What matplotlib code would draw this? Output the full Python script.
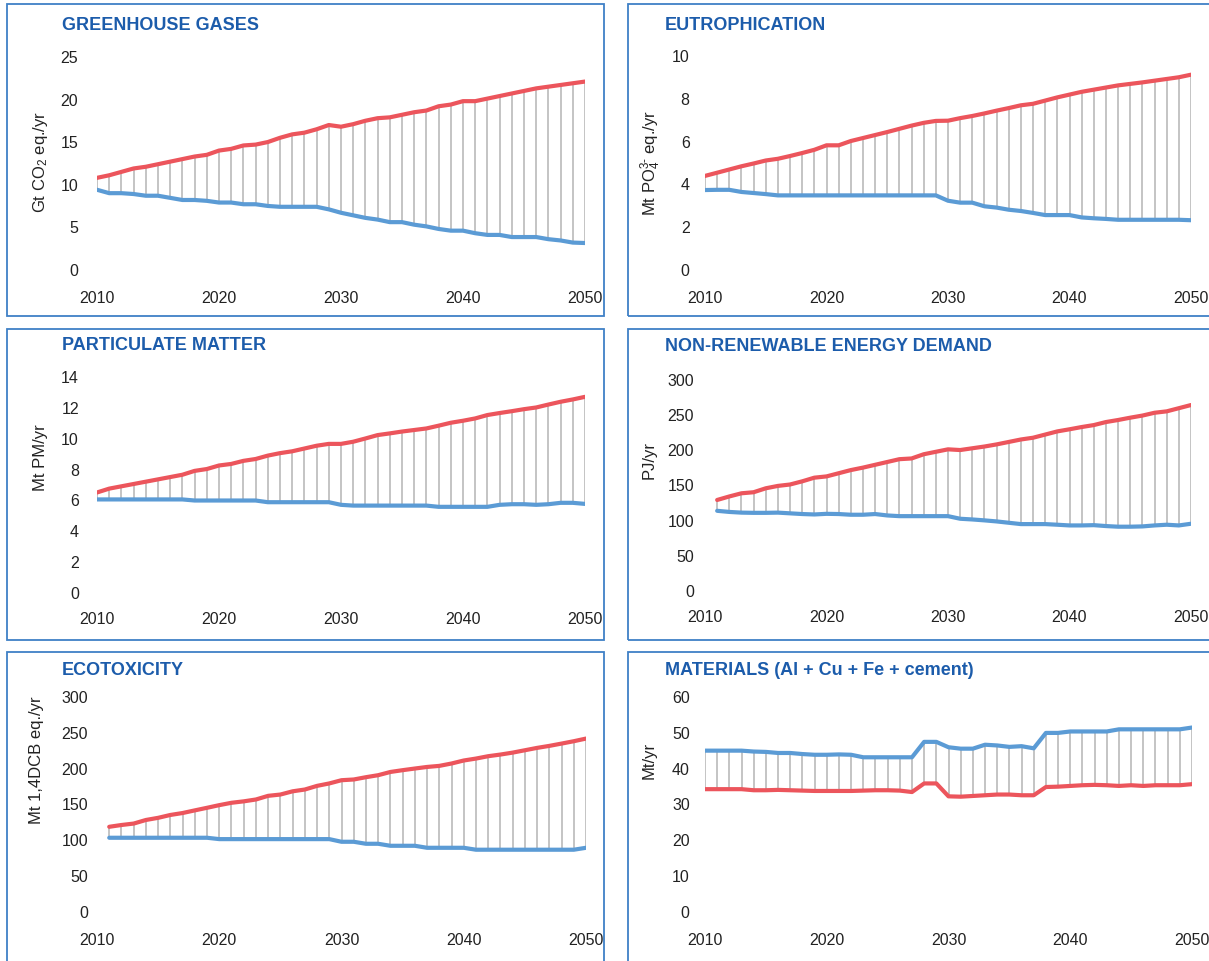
import matplotlib.pyplot as plt
from matplotlib.patches import Rectangle

plt.rcParams['font.family'] = ['Liberation Sans', 'DejaVu Sans']
plt.rcParams['mathtext.fontset'] = 'custom'
plt.rcParams['mathtext.rm'] = 'Liberation Sans'
plt.rcParams['mathtext.it'] = 'Liberation Sans:italic'
plt.rcParams['mathtext.bf'] = 'Liberation Sans:bold'

W, H = 1209, 962
RED = '#EC555C'
BLUE = '#5B9BD5'
GREY = '#C4C4C4'
TITLE_C = '#1C5CAB'
FRAME_C = '#3F80C6'
TEXT_C = '#222222'

years_41 = list(range(2010, 2051))
years_40 = list(range(2011, 2051))

# greenhouse gases, Gt CO2 eq./yr
ghg_red = [10.7, 11.0, 11.4, 11.8, 12.0, 12.3, 12.6, 12.9, 13.2, 13.4,
           13.9, 14.1, 14.5, 14.6, 14.9, 15.4, 15.8, 16.0, 16.4, 16.9,
           16.7, 17.0, 17.4, 17.7, 17.8, 18.1, 18.4, 18.6, 19.1, 19.3,
           19.7, 19.7, 20.0, 20.3, 20.6, 20.9, 21.2, 21.4, 21.6, 21.8, 22.0]
ghg_blue = [9.3, 8.9, 8.9, 8.8, 8.6, 8.6, 8.35, 8.1, 8.1, 8.0,
            7.8, 7.8, 7.6, 7.6, 7.4, 7.3, 7.3, 7.3, 7.3, 7.0,
            6.6, 6.3, 6.0, 5.8, 5.5, 5.5, 5.2, 5.0, 4.7, 4.5,
            4.5, 4.2, 4.0, 4.0, 3.75, 3.75, 3.75, 3.5, 3.35, 3.1, 3.05]

# eutrophication, Mt PO4 eq./yr
eut_red = [4.35, 4.5, 4.65, 4.8, 4.93, 5.07, 5.15, 5.28, 5.42, 5.57,
           5.78, 5.78, 5.98, 6.12, 6.26, 6.4, 6.55, 6.7, 6.83, 6.92,
           6.93, 7.05, 7.15, 7.27, 7.4, 7.52, 7.65, 7.72, 7.87, 8.02,
           8.15, 8.28, 8.38, 8.48, 8.58, 8.65, 8.72, 8.8, 8.88, 8.96, 9.08]
eut_blue = [3.69, 3.7, 3.7, 3.6, 3.55, 3.5, 3.44, 3.44, 3.44, 3.44,
            3.44, 3.44, 3.44, 3.44, 3.44, 3.44, 3.44, 3.44, 3.44, 3.44,
            3.19, 3.1, 3.1, 2.93, 2.87, 2.77, 2.71, 2.62, 2.52, 2.52,
            2.52, 2.41, 2.37, 2.34, 2.3, 2.3, 2.3, 2.3, 2.3, 2.3, 2.28]

# particulate matter, Mt PM/yr
pm_red = [6.45, 6.7, 6.85, 7.0, 7.15, 7.3, 7.45, 7.6, 7.85, 7.97,
          8.2, 8.3, 8.5, 8.62, 8.84, 9.0, 9.12, 9.3, 9.48, 9.6,
          9.6, 9.74, 9.95, 10.17, 10.28, 10.4, 10.5, 10.6, 10.78, 10.97,
          11.1, 11.25, 11.47, 11.6, 11.72, 11.85, 11.96, 12.15, 12.33, 12.48, 12.65]
pm_blue = [6.0, 6.0, 6.0, 6.0, 6.0, 6.0, 6.0, 6.0, 5.93, 5.93,
           5.93, 5.93, 5.93, 5.93, 5.82, 5.82, 5.82, 5.82, 5.82, 5.82,
           5.65, 5.6, 5.6, 5.6, 5.6, 5.6, 5.6, 5.6, 5.52, 5.52,
           5.52, 5.52, 5.52, 5.65, 5.69, 5.69, 5.65, 5.69, 5.78, 5.78, 5.71]

# non-renewable energy demand, PJ/yr (2011-2050)
nred_red = [128, 133, 137.5, 139, 144.6, 148, 150, 154.5, 159.7,
            161.5, 166, 170.5, 174, 178, 182, 186, 187, 193, 196.5,
            200, 199, 201.5, 204, 207, 210.5, 214, 216.5, 221, 225.5,
            228.5, 231.7, 234.5, 238.8, 241.7, 245, 248, 252, 254, 258.5, 263]
nred_blue = [112.6, 111, 110, 109.7, 109.7, 110, 109, 108, 107.4,
             108.3, 108, 107, 107, 108, 106, 105, 105, 105, 105,
             105, 101.3, 100.3, 99, 97.5, 95.6, 93.7, 93.7, 93.7, 92.8,
             91.8, 91.8, 92.2, 90.9, 90, 90, 90.4, 91.8, 92.8, 91.8, 94.2]

# ecotoxicity, Mt 1,4DCB eq./yr (2011-2050)
eco_red = [117.5, 120, 122, 127, 130, 134, 136.7, 140.4, 144,
           147.7, 151, 153, 155.6, 160.7, 162.5, 167, 169.5, 174.6, 178,
           182.5, 183.5, 186.7, 189.5, 194, 196.5, 198.8, 201, 202.5, 205.8,
           210, 212.7, 216, 218.3, 221, 224.3, 227.6, 230.4, 233.6, 236.9, 240.6]
eco_blue = [102.2, 102.2, 102.2, 102.2, 102.2, 102.2, 102.2, 102.2, 102.2,
            100.3, 100.3, 100.3, 100.3, 100.3, 100.3, 100.3, 100.3, 100.3, 100.3,
            96.6, 96.6, 93.8, 93.8, 91, 91, 91, 88.2, 88.2, 88.2,
            88.2, 85.5, 85.5, 85.5, 85.5, 85.5, 85.5, 85.5, 85.5, 85.5, 88.2]

# materials (Al + Cu + Fe + cement), Mt/yr
mat_red = [34.0, 34.0, 34.0, 34.0, 33.7, 33.7, 33.8, 33.7, 33.6, 33.5,
           33.5, 33.5, 33.5, 33.6, 33.7, 33.7, 33.6, 33.2, 35.6, 35.6,
           32.0, 31.9, 32.1, 32.3, 32.5, 32.5, 32.3, 32.3, 34.6, 34.7,
           34.9, 35.1, 35.2, 35.1, 34.9, 35.1, 34.9, 35.1, 35.1, 35.1, 35.4]
mat_blue = [44.75, 44.75, 44.75, 44.75, 44.5, 44.4, 44.1, 44.1, 43.8, 43.6,
            43.6, 43.7, 43.6, 42.9, 42.9, 42.9, 42.9, 42.9, 47.2, 47.2,
            45.7, 45.3, 45.3, 46.4, 46.2, 45.8, 46.0, 45.4, 49.7, 49.7,
            50.1, 50.1, 50.1, 50.1, 50.7, 50.7, 50.7, 50.7, 50.7, 50.7, 51.2]

# panel: title, y label, years, red, blue, ymax, ystep,
# plot area in px (left, right, top, bottom), frame in px, title pos, ylabel pos,
# ytick pad, xtick pad
panels = [
    ('GREENHOUSE GASES', 'Gt CO$_2$ eq./yr', years_41, ghg_red, ghg_blue, 25, 5,
     (97, 585, 57, 270), (7, 604, 5, 317), (62, 26), (40, 162), 13.5, 15),
    ('EUTROPHICATION', 'Mt PO$_4^{3\\text{-}}$ eq./yr', years_41, eut_red, eut_blue, 10, 2,
     (705, 1191, 56, 270), (628, 1215, 5, 317), (665, 26), (651, 163), 11, 15),
    ('PARTICULATE MATTER', 'Mt PM/yr', years_41, pm_red, pm_blue, 14, 2,
     (97, 585, 377, 593), (7, 604, 330, 641), (62, 346), (40, 458), 13, 14),
    ('NON-RENEWABLE ENERGY DEMAND', 'PJ/yr', years_40, nred_red, nred_blue, 300, 50,
     (705, 1191, 380, 591), (628, 1215, 330, 641), (665, 347), (649, 460), 8, 14),
    ('ECOTOXICITY', 'Mt 1,4DCB eq./yr', years_40, eco_red, eco_blue, 300, 50,
     (97, 586, 697, 912), (7, 604, 653, 975), (62, 671), (37, 760), 6.5, 15),
    ('MATERIALS (Al + Cu + Fe + cement)', 'Mt/yr', years_41, mat_red, mat_blue, 60, 10,
     (705, 1192, 697, 912), (628, 1215, 653, 975), (665, 671), (649, 760), 11, 15),
]

fig = plt.figure(figsize=(W / 100, H / 100), dpi=100)

for (title, ylabel, yrs, red, blue, ymax, ystep,
     area, frame, tpos, lpos, ypad, xpad) in panels:
    fl, fr, ft, fb = frame
    fig.add_artist(Rectangle((fl / W, 1 - fb / H), (fr - fl) / W, (fb - ft) / H,
                             transform=fig.transFigure, fill=False,
                             edgecolor=FRAME_C, linewidth=1.3))
    fig.text(tpos[0] / W, 1 - tpos[1] / H, title, color=TITLE_C,
             fontsize=13, fontweight='bold', ha='left', va='center')
    fig.text(lpos[0] / W, 1 - lpos[1] / H, ylabel, color=TEXT_C,
             fontsize=12, rotation=90, ha='center', va='center')

    l, r, t, b = area
    ax = fig.add_axes([l / W, 1 - b / H, (r - l) / W, (b - t) / H])
    lo = [min(a, c) for a, c in zip(red, blue)]
    hi = [max(a, c) for a, c in zip(red, blue)]
    ax.vlines(yrs, lo, hi, color=GREY, linewidth=1.4, zorder=1)
    ax.plot(yrs, blue, color=BLUE, linewidth=3.0, solid_capstyle='round',
            solid_joinstyle='round', zorder=2)
    ax.plot(yrs, red, color=RED, linewidth=3.0, solid_capstyle='round',
            solid_joinstyle='round', zorder=3)

    ax.set_xlim(2010, 2050)
    ax.set_ylim(0, ymax)
    ax.set_xticks([2010, 2020, 2030, 2040, 2050])
    ax.set_yticks(list(range(0, ymax + 1, ystep)))
    for s in ax.spines.values():
        s.set_visible(False)
    ax.tick_params(axis='x', length=0, pad=xpad, labelsize=11.5, labelcolor=TEXT_C)
    ax.tick_params(axis='y', length=0, pad=ypad, labelsize=11.5, labelcolor=TEXT_C)
    ax.patch.set_alpha(0)

fig.savefig('out.png', dpi=100, facecolor='white')
